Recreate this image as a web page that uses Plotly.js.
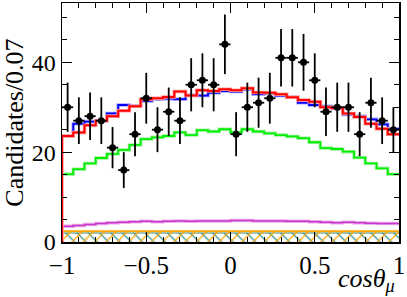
<!DOCTYPE html>
<html><head><meta charset="utf-8">
<script src="https://cdn.plot.ly/plotly-3.0.1.min.js"></script>
<style>html,body{margin:0;padding:0;background:#fff}#c{width:407px;height:297px}</style>
</head><body><div id="c"></div>
<script>
// 30 bins in cos(theta_mu) from -1 to 1
const xLow = -1, xHigh = 1, nBins = 30;
const dataCounts = [30, 27, 28, 27, 21, 16, 24, 32, 25, 29, 27, 35, 36, 35, 44,
                    24, 30, 31, 32, 41, 41, 40, 36, 29, 30, 30, 24, 31, 27, 25];
const totalFit = [23.6, 24.4, 26.0, 27.0, 28.0, 29.2, 30.2, 31.8, 32.0, 32.3, 33.5, 32.6, 33.8, 33.6, 34.0,
                  33.8, 34.2, 33.3, 33.2, 32.9, 32.2, 31.6, 31.2, 30.0, 29.8, 28.6, 27.8, 26.3, 25.2, 24.0];
const altFit = [23.6, 26.3, 26.8, 27.0, 28.6, 30.5, 30.3, 31.4, 31.8, 31.9, 31.8, 32.7, 32.6, 33.2, 33.6,
                33.5, 34.0, 32.9, 33.1, 32.6, 32.2, 31.0, 30.5, 30.2, 29.7, 28.4, 28.0, 27.3, 26.2, 25.2];
const signal = [15.1, 16.2, 17.5, 18.7, 19.6, 20.5, 21.6, 22.9, 23.3, 23.6, 24.4, 23.8, 24.9, 24.6, 25.1,
                24.4, 25.1, 24.6, 24.2, 23.8, 23.5, 23.1, 22.2, 20.9, 20.7, 20.1, 18.8, 17.5, 16.4, 15.1];
const bkgMagenta = [3.5, 3.7, 3.9, 4.1, 4.3, 4.4, 4.5, 4.6, 4.5, 4.6, 4.7, 4.6, 4.7, 4.7, 4.7,
                    4.8, 4.8, 4.7, 4.7, 4.7, 4.6, 4.6, 4.5, 4.4, 4.3, 4.4, 4.3, 4.2, 4.1, 4.1];
const bkgOrange = [2.4, 2.4, 2.4, 2.4, 2.4, 2.4, 2.4, 2.4, 2.4, 2.4, 2.4, 2.4, 2.4, 2.4, 2.4,
                   2.4, 2.4, 2.4, 2.4, 2.4, 2.4, 2.4, 2.4, 2.4, 2.4, 2.4, 2.4, 2.4, 2.4, 2.4];
const bkgTeal = [2.0, 2.0, 2.0, 2.0, 2.0, 2.0, 2.0, 2.0, 2.0, 2.0, 2.0, 2.0, 2.0, 2.0, 2.0,
                 2.0, 2.0, 2.0, 2.0, 2.0, 2.0, 2.0, 2.0, 2.0, 2.0, 2.0, 2.0, 2.0, 2.0, 2.0];

const w = (xHigh - xLow) / nBins;
const edges = Array.from({length: nBins + 1}, (_, i) => xLow + i * w);
const centers = Array.from({length: nBins}, (_, i) => xLow + (i + 0.5) * w);

function step(vals, color, width, fromZero, extra) {
  const x = edges.slice();
  const y = vals.concat([vals[vals.length - 1]]);
  if (fromZero) { x.unshift(xLow); y.unshift(0); }
  return Object.assign({x: x, y: y, type: 'scatter', mode: 'lines',
    line: {shape: 'hv', color: color, width: width}, hoverinfo: 'skip', showlegend: false}, extra || {});
}

const traces = [
  step(bkgTeal, '#2a8f8f', 1, false, {fill: 'tozeroy', fillcolor: 'rgba(0,0,0,0)',
       fillpattern: {shape: '\\', fgcolor: '#2a8f8f', bgcolor: 'rgba(0,0,0,0)', size: 8, solidity: 0.15}}),
  step(bkgOrange, '#ffa500', 2, false, {fill: 'tozeroy', fillcolor: 'rgba(0,0,0,0)',
       fillpattern: {shape: '/', fgcolor: '#ffa500', bgcolor: 'rgba(0,0,0,0)', size: 8, solidity: 0.15}}),
  step(bkgMagenta, '#eab0ea', 3.5),
  step(bkgMagenta, '#cc33cc', 1.5),
  step(signal, '#a8f0a8', 3.5),
  step(signal, '#00ee00', 1.8),
  step(altFit, '#a8a8ff', 3.5),
  step(altFit, '#0000ff', 1.8),
  step(totalFit, '#ff9f9f', 3.5, true),
  step(totalFit, '#ff0000', 2, true),
  {x: centers, y: dataCounts, type: 'scatter', mode: 'markers', showlegend: false, hoverinfo: 'skip',
   marker: {color: '#000', size: 7},
   error_y: {type: 'data', array: dataCounts.map(Math.sqrt), color: '#000', thickness: 1.8, width: 0},
   error_x: {type: 'constant', value: w / 2, color: '#000', thickness: 1.8, width: 0}}
];

const font = 'Liberation Serif';
const layout = {
  width: 407, height: 297,
  margin: {l: 62, r: 8, t: 3, b: 55},
  paper_bgcolor: '#fff', plot_bgcolor: '#fff',
  font: {family: font, size: 24, color: '#000'},
  showlegend: false,
  xaxis: {range: [xLow, xHigh], tickvals: [-1, -0.5, 0, 0.5, 1], ticktext: ['\u22121', '\u22120.5', '0', '0.5', '1'],
    ticks: 'inside', ticklen: 10, tickwidth: 1, tickcolor: '#000', showgrid: false, zeroline: false,
    showline: true, linecolor: '#000', linewidth: 1.5, mirror: 'allticks',
    minor: {dtick: 0.1, tick0: 0, ticks: 'inside', ticklen: 5, tickcolor: '#000', showgrid: false},
    tickfont: {family: font, size: 25}},
  yaxis: {range: [0, 53.2], tickvals: [0, 20, 40], ticks: 'inside', ticklen: 10, tickwidth: 1, tickcolor: '#000',
    showgrid: false, zeroline: false, showline: true, linecolor: '#000', linewidth: 1.5, mirror: 'allticks',
    minor: {dtick: 5, tick0: 0, ticks: 'inside', ticklen: 5, tickcolor: '#000', showgrid: false},
    tickfont: {family: font, size: 24},
    title: {text: 'Candidates/0.07', font: {family: font, size: 26}, standoff: 2}},
  annotations: [{xref: 'paper', yref: 'paper', x: 0.995, y: -0.085, xanchor: 'right', yanchor: 'top', showarrow: false,
    text: '<i>cosθ<sub>μ</sub></i>', font: {family: font, size: 26, color: '#000'}}]
};

Plotly.newPlot('c', traces, layout, {displayModeBar: false, staticPlot: true});
</script>
</body></html>
